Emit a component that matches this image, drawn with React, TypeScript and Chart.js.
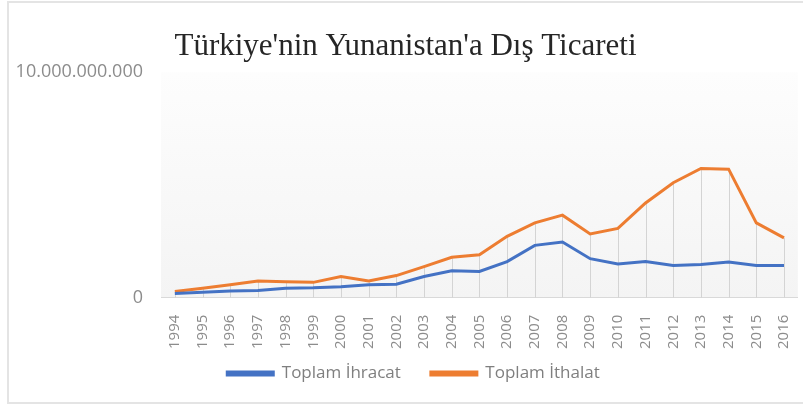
import React, { useEffect, useRef } from "react";
import { Chart, registerables } from "chart.js";

Chart.register(...registerables);

const years = ["1994","1995","1996","1997","1998","1999","2000","2001","2002","2003","2004","2005","2006","2007","2008","2009","2010","2011","2012","2013","2014","2015","2016"];
const exportsTR = [0.19e9,0.24e9,0.30e9,0.32e9,0.42e9,0.44e9,0.49e9,0.57e9,0.60e9,0.94e9,1.19e9,1.16e9,1.60e9,2.32e9,2.47e9,1.73e9,1.49e9,1.60e9,1.43e9,1.47e9,1.58e9,1.43e9,1.43e9];
const importsTR = [0.27e9,0.42e9,0.57e9,0.74e9,0.71e9,0.68e9,0.94e9,0.74e9,0.98e9,1.38e9,1.79e9,1.90e9,2.72e9,3.32e9,3.66e9,2.83e9,3.07e9,4.20e9,5.10e9,5.73e9,5.70e9,3.32e9,2.65e9];
const yTicks = [0, 10000000000];

const fmt = (v: number) => String(Math.round(v)).replace(/\B(?=(\d{3})+(?!\d))/g, ".");

const LEGEND_SHIFT_Y = 23;
const LEGEND_SHIFT_X = 8;

const bgPlugin = {
  id: "plotBg",
  afterLayout(chart: any) {
    const lg = chart.legend;
    if (lg) {
      lg.top -= LEGEND_SHIFT_Y;
      lg.bottom -= LEGEND_SHIFT_Y;
      lg.left += LEGEND_SHIFT_X;
      lg.right += LEGEND_SHIFT_X;
    }
  },
  beforeDraw(chart: any) {
    const { ctx, chartArea: a } = chart;
    const g = ctx.createLinearGradient(0, a.top, 0, a.bottom);
    g.addColorStop(0, "#fdfdfd");
    g.addColorStop(1, "#f4f4f4");
    ctx.save();
    ctx.fillStyle = g;
    ctx.fillRect(a.left, a.top, a.right - a.left, a.bottom - a.top);
    ctx.restore();
  },
  beforeDatasetsDraw(chart: any) {
    const { ctx, chartArea: a, scales } = chart;
    const x = scales.x, y = scales.y;
    ctx.save();
    ctx.strokeStyle = "#d4d4d4";
    ctx.lineWidth = 1;
    years.forEach((_, i) => {
      const top = Math.max(exportsTR[i], importsTR[i]);
      const px = Math.round(x.getPixelForValue(i)) + 0.5;
      ctx.beginPath();
      ctx.moveTo(px, y.getPixelForValue(top));
      ctx.lineTo(px, a.bottom);
      ctx.stroke();
    });
    ctx.restore();
  },
};

export default function App() {
  const ref = useRef<HTMLCanvasElement | null>(null);
  useEffect(() => {
    if (!ref.current) return;
    const chart = new Chart(ref.current, {
      type: "line",
      data: {
        labels: years,
        datasets: [
          { label: "Toplam İhracat", data: exportsTR, borderColor: "#4472C4", backgroundColor: "#4472C4", borderWidth: 3, pointRadius: 0, tension: 0 },
          { label: "Toplam İthalat", data: importsTR, borderColor: "#ED7D31", backgroundColor: "#ED7D31", borderWidth: 3, pointRadius: 0, tension: 0 },
        ],
      },
      options: {
        responsive: false,
        animation: false,
        layout: { padding: { left: 0, right: 0, top: 0, bottom: 5 } },
        plugins: {
          title: {
            display: true,
            text: "Türkiye'nin Yunanistan'a Dış Ticareti",
            font: { family: "'Liberation Serif', serif", size: 31, weight: "normal" },
            color: "#262626",
            padding: { top: 28, bottom: 7 },
          },
          legend: {
            position: "bottom",
            labels: {
              boxWidth: 46,
              boxHeight: 3,
              color: "#7f7f7f",
              font: { family: "'Open Sans', sans-serif", size: 17 },
              padding: 30,
            },
          },
          tooltip: { enabled: false },
        },
        scales: {
          x: {
            offset: true,
            grid: { display: false },
            border: { display: true, color: "#d9d9d9" },
            ticks: {
              minRotation: 90,
              maxRotation: 90,
              color: "#8c8c8c",
              font: { family: "'Open Sans', sans-serif", size: 15 },
              padding: 9,
            },
          },
          y: {
            min: 0,
            max: 10000000000,
            afterBuildTicks(axis: any) {
              axis.ticks = yTicks.map((v) => ({ value: v }));
            },
            afterFit(axis: any) {
              axis.width = 161;
            },
            grid: { display: false },
            border: { display: false },
            ticks: {
              color: "#8c8c8c",
              font: { family: "'Open Sans', sans-serif", size: 18 },
              padding: 10,
              callback: (v: any) => fmt(Number(v)),
            },
          },
        },
      },
      plugins: [bgPlugin],
    });
    return () => chart.destroy();
  }, []);
  return (
    <div style={{ position: "absolute", left: 0, top: 0, width: 803, height: 407, overflow: "hidden", background: "#ffffff" }}>
      <div style={{ position: "absolute", left: 7, top: 1, width: 820, height: 403, border: "2px solid #e4e4e4", boxSizing: "border-box" }} />
      <canvas ref={ref} width={811} height={420} style={{ position: "absolute", left: 0, top: 0, width: 811, height: 420 }} />
    </div>
  );
}
